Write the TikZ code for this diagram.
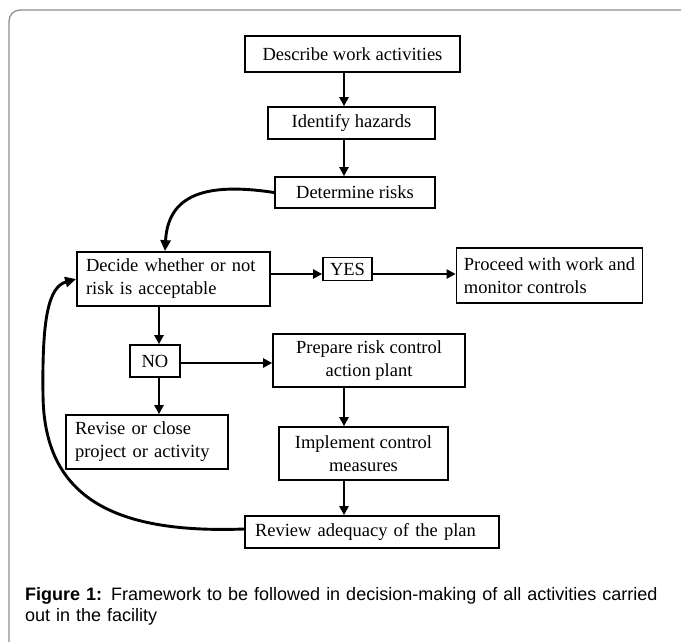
\documentclass[tikz,border=0pt]{standalone}
\usepackage{fontspec}
\setmainfont{Liberation Serif}
\newfontfamily\capfont{Liberation Sans}
\usetikzlibrary{arrows.meta}
\tikzset{
  box/.style={draw, line width=1.7pt, inner sep=0pt, font=\fontsize{18.5}{23}\selectfont},
  conn/.style={line width=2.5pt, -{Triangle[length=9pt,width=9pt]}},
  loopc/.style={line width=2.9pt, -{Triangle[length=11pt,width=10pt]}},
  frame/.style={draw=black!45, line width=1.2pt, rounded corners=11pt},
}
\begin{document}
\begin{tikzpicture}[x=1pt,y=-1pt]
\useasboundingbox (0,0) rectangle (681,641);
\fill[white] (0,0) rectangle (681,641);
\draw[frame] (9,10) rectangle (700,670);

% boxes
\node[box, minimum width=215pt, minimum height=36pt] (describe) at (352.5,54) {Describe work activities};
\node[box, minimum width=167pt, minimum height=32pt] (identify) at (351.5,123) {Identify hazards};
\node[box, minimum width=160pt, minimum height=31pt] (determine) at (355,192.5) {Determine risks};
\node[box, minimum width=193pt, minimum height=54pt, text width=175pt, align=left] (decide) at (173.5,279) {Decide whether or not\\risk is acceptable};
\node[box, minimum width=49pt, minimum height=23pt] (yes) at (347.5,269) {YES};
\node[box, minimum width=186pt, minimum height=55pt, align=left] (proceed) at (549.5,275.5) {Proceed with work and\\monitor controls};
\node[box, minimum width=50pt, minimum height=32pt] (no) at (155,361) {NO};
\node[box, minimum width=192pt, minimum height=53pt, align=center] (prepare) at (369,360.5) {Prepare risk control\\action plant};
\node[box, minimum width=162pt, minimum height=54pt, text width=144pt, align=left] (revise) at (147,442) {Revise or close\\project or activity};
\node[box, minimum width=169pt, minimum height=53pt, align=center] (implement) at (363.5,453.5) {Implement control\\measures};
\node[box, minimum width=254pt, minimum height=32pt, text width=234pt, align=left] (review) at (372,532) {Review adequacy of the plan};

% helper coordinates for connector lines
\coordinate (colmain) at (344,0);
\coordinate (colno) at (159,0);
\coordinate (rowyes) at (0,274);
\coordinate (rowno) at (0,363);
\coordinate (coldec) at (165,0);
\coordinate (rowrev) at (0,529);
\coordinate (rowdec) at (0,279);

% straight connectors
\draw[conn] (describe.south -| colmain) -- (identify.north -| colmain);
\draw[conn] (identify.south -| colmain) -- (determine.north -| colmain);
\draw[conn] (decide.east |- rowyes) -- (yes.west |- rowyes);
\draw[conn] (yes.east |- rowyes) -- (proceed.west |- rowyes);
\draw[conn] (decide.south -| colno) -- (no.north -| colno);
\draw[conn] (no.east |- rowno) -- (prepare.west |- rowno);
\draw[conn] (no.south -| colno) -- (revise.north -| colno);
\draw[conn] (prepare.south -| colmain) -- (implement.north -| colmain);
\draw[conn] (implement.south -| colmain) -- (review.north -| colmain);

% curved connectors
\draw[loopc] (determine.west) .. controls (205,182) and (168,195) .. (decide.north -| coldec);
\draw[loopc] (review.west |- rowrev) .. controls (110,534) and (44,495) .. (43,395)
  .. controls (42,320) and (48,287) .. (decide.west |- rowdec);

% caption
\node[anchor=north west, inner sep=0pt, text width=660pt, align=left,
      font=\capfont\fontsize{18}{21.5}\selectfont] (caption) at (25,587)
  {\textbf{Figure 1:} Framework to be followed in decision-making of all activities carried\\out in the facility};
\end{tikzpicture}
\end{document}
